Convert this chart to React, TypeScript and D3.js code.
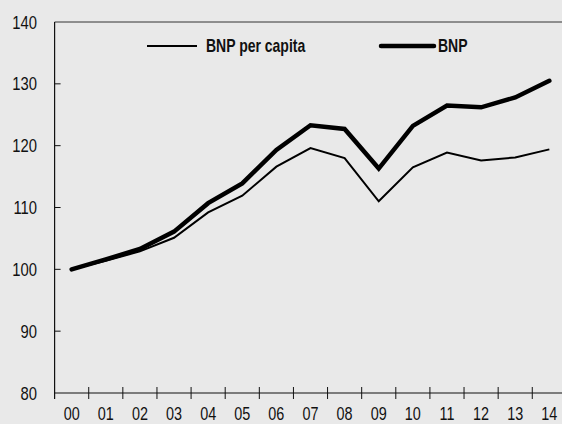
import React from "react";
import * as d3 from "d3";

const years = ["00","01","02","03","04","05","06","07","08","09","10","11","12","13","14"];
const bnpPerCapita = [100, 101.4, 102.9, 105.1, 109.2, 111.9, 116.6, 119.6, 118.0, 111.0, 116.5, 118.9, 117.6, 118.1, 119.4];
const bnp = [100, 101.6, 103.3, 106.1, 110.7, 113.9, 119.3, 123.3, 122.7, 116.3, 123.2, 126.5, 126.2, 127.8, 130.5];
const yTicks = [80, 90, 100, 110, 120, 130, 140];

const W = 562, H = 424;
const left = 54.6, right = 566.4, top = 22, bottom = 393;
const font = "'Liberation Sans', Arial, sans-serif";
const SX = 0.8;

function NText(props: { x: number; y: number; anchor?: string; size: number; bold?: boolean; dy?: string; children: React.ReactNode }) {
  const { x, y, anchor, size, bold, dy, children } = props;
  return (
    <text
      transform={`translate(${x},${y}) scale(${SX},1)`}
      dy={dy}
      textAnchor={anchor || "start"}
      fontFamily={font}
      fontSize={size}
      fontWeight={bold ? "bold" : "normal"}
      fill="#111"
    >
      {children}
    </text>
  );
}

export default function App() {
  const x = d3.scaleBand<string>().domain(years).range([left, right]);
  const y = d3.scaleLinear().domain([80, 140]).range([bottom, top]);
  const line = d3.line<number>()
    .x((_, i) => (x(years[i]) as number) + x.bandwidth() / 2)
    .y((d) => y(d));
  const boundaries = years.slice(1).map((yr) => x(yr) as number);
  return (
    <svg width={W} height={H} style={{ position: "absolute", left: 0, top: 0, background: "#e9e9e9" }}>
      <rect x={0} y={0} width={W} height={H} fill="#e9e9e9" />
      <line x1={left} x2={W} y1={top} y2={top} stroke="#333" strokeWidth={1} />
      <line x1={left} x2={left} y1={top} y2={bottom + 6} stroke="#111" strokeWidth={1.2} />
      <line x1={left} x2={W} y1={bottom} y2={bottom} stroke="#111" strokeWidth={1.2} />
      {yTicks.map((t) => (
        <g key={t}>
          {t > 80 && t < 140 && <line x1={left} x2={left + 6} y1={y(t)} y2={y(t)} stroke="#111" />}
          <NText x={37} y={y(t)} dy="0.36em" anchor="end" size={18.5}>{t}</NText>
        </g>
      ))}
      {boundaries.map((b, i) => (
        <line key={i} x1={b} x2={b} y1={bottom - 6} y2={bottom + 6} stroke="#111" />
      ))}
      {years.map((yr) => (
        <NText key={yr} x={(x(yr) as number) + x.bandwidth() / 2} y={414} dy="0.36em" anchor="middle" size={18}>{yr}</NText>
      ))}
      <path d={line(bnpPerCapita) || ""} fill="none" stroke="#000" strokeWidth={2} strokeLinejoin="miter" />
      <path d={line(bnp) || ""} fill="none" stroke="#000" strokeWidth={4.5} strokeLinecap="round" strokeLinejoin="miter" />
      <line x1={147} x2={197} y1={46} y2={46} stroke="#000" strokeWidth={2} />
      <NText x={206} y={46} dy="0.36em" size={17.5} bold>BNP per capita</NText>
      <line x1={381} x2={434} y1={46} y2={46} stroke="#000" strokeWidth={4.5} strokeLinecap="round" />
      <NText x={438} y={46} dy="0.36em" size={17.5} bold>BNP</NText>
    </svg>
  );
}
